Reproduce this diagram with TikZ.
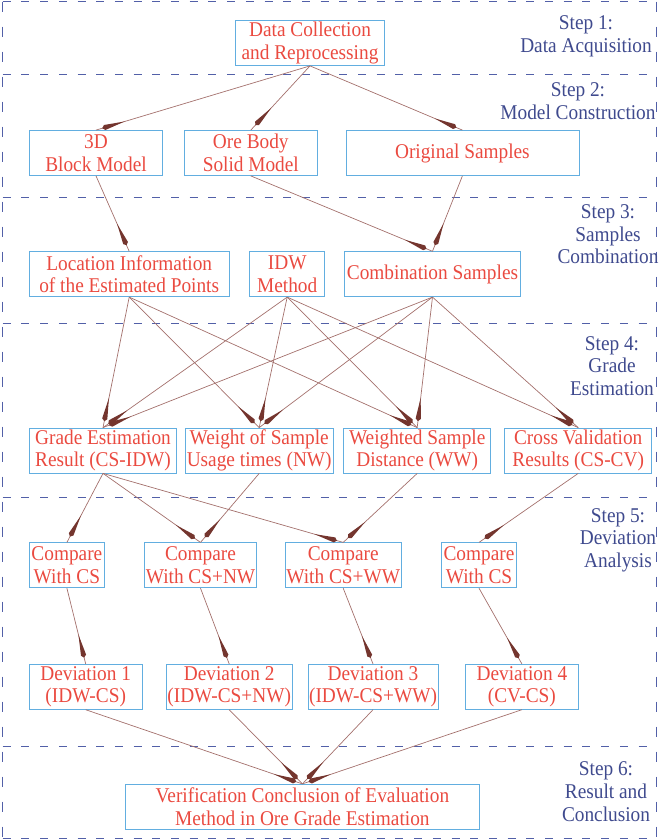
\documentclass[tikz,border=0pt]{standalone}
\usepackage{fontspec}
\setmainfont{Liberation Serif}[FakeStretch=0.92]
\usetikzlibrary{
  positioning,
  arrows.meta,
  decorations.markings
}
\definecolor{boxc}{HTML}{62AEE0}
\definecolor{txtc}{HTML}{EA4A40}
\definecolor{stepc}{HTML}{3F4A8E}
\definecolor{sepc}{HTML}{5260A8}
\definecolor{linec}{HTML}{A3706C}
\definecolor{headc}{HTML}{74352E}
\newcommand{\boxfont}{\fontsize{21}{22.6}\selectfont}

\begin{document}
\begin{tikzpicture}[
  x=1pt, y=-1pt,
  box/.style={draw=boxc, line width=0.8pt, text=txtc, align=center,
              minimum height=45pt, inner sep=1pt, font=\boxfont},
  steplbl/.style={text=stepc, align=center, font=\boxfont, inner sep=0pt},
  sep/.style={draw=sepc, line width=1pt, dash pattern=on 8pt off 10.7pt},
  side/.style={draw=sepc, line width=1pt, dash pattern=on 10pt off 15pt},
  flow/.style={draw=linec, line width=0.7pt, postaction={decorate},
               decoration={markings, mark=at position 1 with
               {\fill[headc] (-6.5pt,0pt) -- (-9pt,2.6pt) -- (-30pt,0pt) -- (-9pt,-2.6pt) -- cycle;}}}
]
  \useasboundingbox (0,0) rectangle (659,840);

  % stage separators
  \foreach \y in {1.7, 75, 197, 323, 497, 746, 838}
    \draw[sep] (2.7,\y) -- (656.7,\y);
  \draw[side] (2.7,1.7) -- (2.7,838);
  \draw[side] (656.7,1.7) -- (656.7,838);

  % step labels
  \node[steplbl] (s1) at (586, 36)    {Step 1:\\Data Acquisition};
  \node[steplbl] (s2) at (578, 101)   {Step 2:\\Model Construction};
  \node[steplbl] (s3) at (608, 234.5) {Step 3:\\Samples\\Combination};
  \node[steplbl] (s4) at (612, 366)   {Step 4:\\Grade\\Estimation};
  \node[steplbl] (s5) at (618, 540)   {Step 5:\\Deviation\\Analysis};
  \node[steplbl] (s6) at (606, 791.7) {Step 6:\\Result and\\Conclusion};

  % step 1 and 2
  \node[box, minimum width=149pt] (collect) at (310, 43) {Data Collection\\and Reprocessing};
  \node[box, minimum width=133pt] (block) at (96, 153) {3D\\Block Model};
  \node[box, minimum width=133.5pt] (orebody) at (250.8, 153) {Ore Body\\Solid Model};
  \node[box, minimum width=233pt] (original) at (462.4, 153) {Original Samples};

  % step 3
  \node[box, minimum width=199.6pt] (location) at (129.2, 274.2) {Location Information\\of the Estimated Points};
  \node[box, minimum width=74.8pt] (idw) at (287.2, 274.2) {IDW\\Method};
  \node[box, minimum width=175.4pt] (combo) at (432.5, 274.2) {Combination Samples};

  % step 4
  \node[box, minimum width=147pt] (grade) at (103, 450.5) {Grade Estimation\\Result (CS-IDW)};
  \node[box, minimum width=147.5pt] (weight) at (259.2, 450.5) {Weight of Sample\\Usage times (NW)};
  \node[box, minimum width=147pt] (weighted) at (417.2, 450.5) {Weighted Sample\\Distance (WW)};
  \node[box, minimum width=147pt] (cross) at (578.2, 450.5) {Cross Validation\\Results (CS-CV)};

  % step 5
  \node[box, minimum width=75pt] (cmpA) at (66.9, 565.3) {Compare\\With CS};
  \node[box, minimum width=93pt] (cmpB) at (200.5, 565.3) {Compare\\With CS+NW};
  \node[box, minimum width=93.5pt] (cmpC) at (343.2, 565.3) {Compare\\With CS+WW};
  \node[box, minimum width=75pt] (cmpD) at (479, 565.3) {Compare\\With CS};

  \node[box, minimum width=112.6pt] (devA) at (85.7, 686.8) {Deviation 1\\(IDW-CS)};
  \node[box, minimum width=112.7pt] (devB) at (229.2, 686.8) {Deviation 2\\(IDW-CS+NW)};
  \node[box, minimum width=112.7pt] (devC) at (373, 686.8) {Deviation 3\\(IDW-CS+WW)};
  \node[box, minimum width=112.7pt] (devD) at (521.9, 686.8) {Deviation 4\\(CV-CS)};

  % step 6
  \node[box, minimum width=354pt] (final) at (302.4, 806.8) {Verification Conclusion of Evaluation\\Method in Ore Grade Estimation};

  % connectors
  \foreach \to in {block, orebody, original}
    \draw[flow] (collect.south) -- (\to.north);
  \draw[flow] (block.south) -- (location.north);
  \draw[flow] (orebody.south) -- (combo.north);
  \draw[flow] (original.south) -- (combo.north);
  \foreach \to in {grade, weight, weighted}
    \draw[flow] (location.south) -- (\to.north);
  \foreach \from in {idw, combo}
    \foreach \to in {grade, weight, weighted, cross}
      \draw[flow] (\from.south) -- (\to.north);
  \foreach \to in {cmpA, cmpB, cmpC}
    \draw[flow] (grade.south) -- (\to.north);
  \draw[flow] (weight.south) -- (cmpB.north);
  \draw[flow] (weighted.south) -- (cmpC.north);
  \draw[flow] (cross.south) -- (cmpD.north);
  \draw[flow] (cmpA.south) -- (devA.north);
  \draw[flow] (cmpB.south) -- (devB.north);
  \draw[flow] (cmpC.south) -- (devC.north);
  \draw[flow] (cmpD.south) -- (devD.north);
  \foreach \from in {devA, devB, devC, devD}
    \draw[flow] (\from.south) -- (final.north);
\end{tikzpicture}
\end{document}
